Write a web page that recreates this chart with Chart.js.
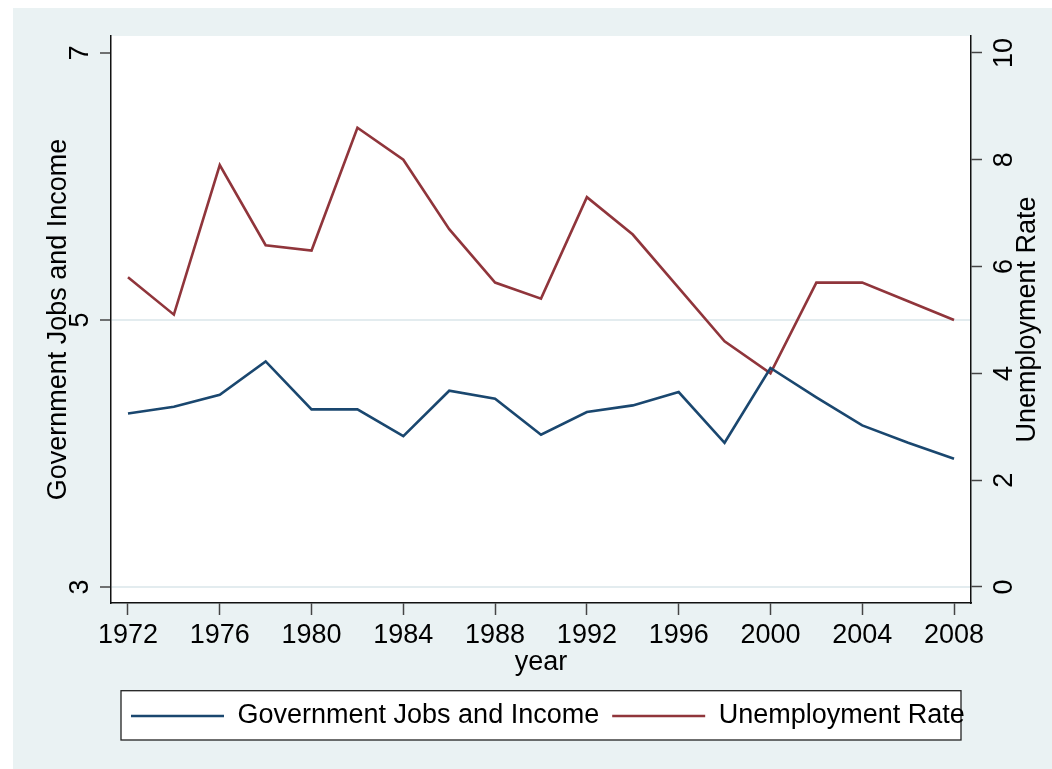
<!DOCTYPE html>
<html>
<head>
<meta charset="utf-8">
<script src="https://cdn.jsdelivr.net/npm/chart.js@4/dist/chart.umd.min.js"></script>
<style>
  html, body { margin: 0; padding: 0; background: #ffffff; }
  canvas { display: block; }
</style>
</head>
<body>
<canvas id="chart" width="1052" height="769"></canvas>
<script>
// Survey years
const YEARS = [1972, 1974, 1976, 1978, 1980, 1982, 1984, 1986, 1988, 1990,
               1992, 1994, 1996, 1998, 2000, 2002, 2004, 2006, 2008];

// Government jobs and income index (left axis)
const GOV_JOBS = [4.30, 4.35, 4.44, 4.69, 4.33, 4.33, 4.13, 4.47, 4.41, 4.14,
                  4.31, 4.36, 4.46, 4.08, 4.64, 4.42, 4.21, 4.08, 3.96];

// Unemployment rate, percent (right axis)
const UNEMPLOYMENT = [5.8, 5.1, 7.9, 6.4, 6.3, 8.6, 8.0, 6.7, 5.7, 5.4,
                      7.3, 6.6, 5.6, 4.6, 4.0, 5.7, 5.7, 5.35, 5.0];

// Tick labels
const X_TICKS = [1972, 1976, 1980, 1984, 1988, 1992, 1996, 2000, 2004, 2008];
const LEFT_TICKS = [3, 5, 7];
const RIGHT_TICKS = [0, 2, 4, 6, 8, 10];

const SERIES_NAMES = ['Government Jobs and Income', 'Unemployment Rate'];
const X_TITLE = 'year';

const FONT_FAMILY = '"Liberation Sans", Arial, Helvetica, sans-serif';
const FONT_SIZE = 27;
const NAVY = '#1a476f';
const MAROON = '#90353b';
const BG = '#eaf2f3';
const GRID = '#e3ecef';
const AXIS = '#111111';

Chart.defaults.font.family = FONT_FAMILY;
Chart.defaults.font.size = FONT_SIZE;
Chart.defaults.color = '#000000';

const toPoints = (xs, ys) => xs.map((x, i) => ({ x: x, y: ys[i] }));
const fixedTicks = (list) => (scale) => { scale.ticks = list.map(v => ({ value: v })); };

// Graph region background, white plot region and framed legend box
const framePlugin = {
  id: 'frame',
  beforeDraw(chart) {
    const { ctx, chartArea, width, height, legend } = chart;
    ctx.save();
    ctx.fillStyle = BG;
    ctx.fillRect(13, 8, width - 13, height - 8);
    ctx.fillStyle = '#ffffff';
    ctx.fillRect(chartArea.left, chartArea.top,
                 chartArea.right - chartArea.left, chartArea.bottom - chartArea.top);
    // legend box
    const pad = legend.options.labels.padding;
    const cy = legend.top + pad + FONT_SIZE / 2;
    const bx = chartArea.left + 10, bw = chartArea.right - chartArea.left - 20;
    ctx.fillStyle = '#ffffff';
    ctx.fillRect(bx, cy - 25.3, bw, 49.3);
    ctx.strokeStyle = '#222222';
    ctx.lineWidth = 1.3;
    ctx.strokeRect(bx, cy - 25.3, bw, 49.3);
    ctx.restore();
  },
  afterDraw(chart) {
    // right-hand axis title, reading bottom to top
    const { ctx, chartArea, scales } = chart;
    const s = scales.y2;
    ctx.save();
    ctx.font = FONT_SIZE + 'px ' + FONT_FAMILY;
    ctx.fillStyle = '#000000';
    ctx.textAlign = 'center';
    ctx.textBaseline = 'middle';
    ctx.translate(s.right - 24, (chartArea.top + chartArea.bottom) / 2);
    ctx.rotate(-Math.PI / 2);
    ctx.fillText(SERIES_NAMES[1], 0, 0);
    ctx.restore();
  }
};

new Chart(document.getElementById('chart'), {
  type: 'line',
  data: {
    datasets: [
      {
        label: SERIES_NAMES[0],
        data: toPoints(YEARS, GOV_JOBS),
        yAxisID: 'y',
        borderColor: NAVY,
        backgroundColor: NAVY,
        borderWidth: 2.6,
        pointRadius: 0,
        tension: 0
      },
      {
        label: SERIES_NAMES[1],
        data: toPoints(YEARS, UNEMPLOYMENT),
        yAxisID: 'y2',
        borderColor: MAROON,
        backgroundColor: MAROON,
        borderWidth: 2.6,
        pointRadius: 0,
        tension: 0
      }
    ]
  },
  options: {
    responsive: false,
    devicePixelRatio: 1,
    animation: false,
    events: [],
    layout: { padding: { left: 43.8, right: 0, top: 36, bottom: 29.5 } },
    plugins: {
      tooltip: { enabled: false },
      legend: {
        position: 'bottom',
        labels: {
          usePointStyle: true,
          pointStyle: 'line',
          pointStyleWidth: 93,
          padding: 13,
          color: '#000000',
          font: { size: FONT_SIZE, family: FONT_FAMILY }
        }
      }
    },
    scales: {
      x: {
        type: 'linear',
        position: 'bottom',
        min: 1971.26,
        max: 2008.74,
        afterBuildTicks: fixedTicks(X_TICKS),
        afterFit(scale) { scale.height = 86.5; },
        ticks: {
          autoSkip: false,
          maxRotation: 0,
          padding: 4.8,
          callback: (v) => String(v)
        },
        grid: {
          drawOnChartArea: false,
          drawTicks: true,
          tickLength: 12,
          tickColor: '#444444',
          tickWidth: 1.5
        },
        border: { display: true, color: AXIS, width: 1.5 },
        title: {
          display: true,
          text: X_TITLE,
          padding: { top: 0, bottom: 11.2 },
          font: { size: FONT_SIZE, family: FONT_FAMILY }
        }
      },
      y: {
        type: 'linear',
        position: 'left',
        min: 2.88,
        max: 7.127,
        afterBuildTicks: fixedTicks(LEFT_TICKS),
        afterFit(scale) { scale.width = 67.2; },
        ticks: {
          autoSkip: false,
          minRotation: 90,
          maxRotation: 90,
          crossAlign: 'center',
          padding: 12.4,
          callback: (v) => String(v)
        },
        grid: {
          drawOnChartArea: true,
          drawTicks: true,
          tickLength: 11,
          tickColor: '#444444',
          tickWidth: 1.5,
          lineWidth: 2,
          color: (c) => (c.tick && c.tick.value === 7) ? 'rgba(0,0,0,0)' : GRID
        },
        border: { display: true, color: AXIS, width: 1.5 },
        title: {
          display: true,
          text: SERIES_NAMES[0],
          padding: { top: 1.5, bottom: 0 },
          font: { size: FONT_SIZE, family: FONT_FAMILY, lineHeight: 1.0 }
        }
      },
      y2: {
        type: 'linear',
        position: 'right',
        min: -0.3,
        max: 10.318,
        afterBuildTicks: fixedTicks(RIGHT_TICKS),
        afterFit(scale) { scale.width = 81; },
        ticks: {
          autoSkip: false,
          minRotation: 90,
          maxRotation: 90,
          crossAlign: 'center',
          padding: 7.1,
          callback: (v) => String(v)
        },
        grid: {
          drawOnChartArea: false,
          drawTicks: true,
          tickLength: 11,
          tickColor: '#444444',
          tickWidth: 1.5
        },
        border: { display: true, color: AXIS, width: 1.5 },
        title: { display: false }
      }
    }
  },
  plugins: [framePlugin]
});
</script>
</body>
</html>
